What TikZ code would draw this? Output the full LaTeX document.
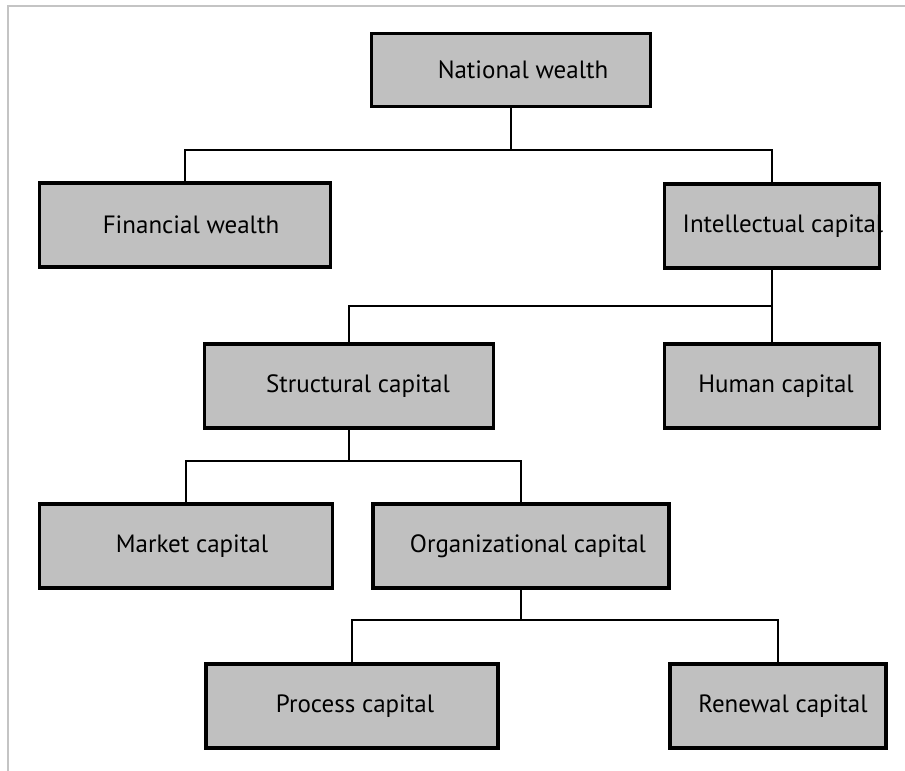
\documentclass[tikz,border=0pt]{standalone}
\usepackage{fontspec}
\setmainfont{PT Sans}
\usepackage{tikz}
\definecolor{boxgray}{RGB}{192,192,192}
\definecolor{framegray}{RGB}{196,196,196}
\tikzset{
  capbox/.style={draw, line width=3.5pt, fill=boxgray, inner sep=0pt,
    minimum height=84pt, font=\fontsize{25}{30}\selectfont},
  link/.style={line width=2pt},
}
% text set a little off the box centre, as in the scan
\newcommand{\boxtext}[2]{\makebox[0pt]{\hspace*{#1}#2}}

\begin{document}
\begin{tikzpicture}[x=1pt,y=1pt]
  \useasboundingbox (0,0) rectangle (905,-771);
  \draw[framegray, line width=2pt] (8,-771) -- (8,-6) -- (905,-6);

  \node[capbox, minimum width=279, minimum height=73] (nat) at (511,-70) {\boxtext{24pt}{National wealth}};

  \node[capbox, minimum width=291] (fin) at (185,-225) {\boxtext{12pt}{Financial wealth}};
  \node[capbox, minimum width=215] (int) at (772,-226) {\boxtext{22pt}{Intellectual capital}};

  \node[capbox, minimum width=289] (str) at (349,-386) {\boxtext{18pt}{Structural capital}};
  \node[capbox, minimum width=215] (hum) at (772,-386) {\boxtext{8pt}{Human capital}};

  \node[capbox, minimum width=293] (mkt) at (186,-546) {\boxtext{12pt}{Market capital}};
  \node[capbox, minimum width=296] (org) at (521,-546) {\boxtext{14pt}{Organizational capital}};

  \node[capbox, minimum width=292] (pro) at (352,-706) {\boxtext{6pt}{Process capital}};
  \node[capbox, minimum width=216] (ren) at (778,-706) {\boxtext{10pt}{Renewal capital}};

  % tree links
  \draw[link] (nat.south) -- ++(0,-42) coordinate (j1);
  \draw[link] (fin.north) |- (j1) -| (int.north);
  \draw[link] (int.south) -- (hum.north);
  \draw[link] (str.north) |- ([yshift=-36pt]int.south);
  \draw[link] (str.south) -- ++(0,-31) coordinate (j3);
  \draw[link] (mkt.north) |- (j3) -| (org.north);
  \draw[link] (org.south) -- ++(0,-30) coordinate (j4);
  \draw[link] (pro.north) |- (j4) -| (ren.north);
\end{tikzpicture}
\end{document}
